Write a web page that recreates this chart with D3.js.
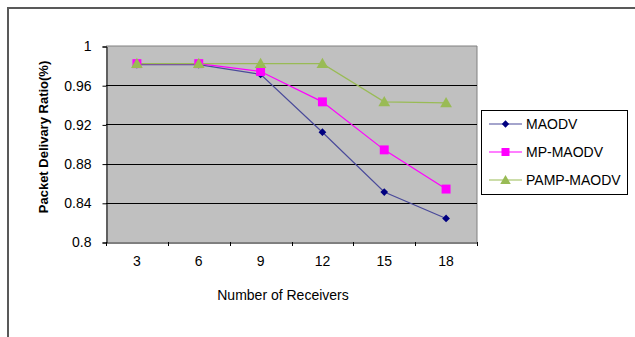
<!DOCTYPE html>
<html><head><meta charset="utf-8">
<script src="https://cdn.jsdelivr.net/npm/d3@7/dist/d3.min.js"></script>
<style>body{margin:0;background:#fff}svg{display:block}</style>
</head><body>
<svg id="c" width="635" height="337"></svg>
<script>
const categories = ["3","6","9","12","15","18"];
const maodv = [0.981, 0.981, 0.971, 0.912, 0.851, 0.824];
const mpMaodv = [0.982, 0.982, 0.974, 0.943, 0.894, 0.854];
const pampMaodv = [0.982, 0.982, 0.982, 0.982, 0.943, 0.942];
const yTicks = [0.8, 0.84, 0.88, 0.92, 0.96, 1];
const seriesNames = ["MAODV", "MP-MAODV", "PAMP-MAODV"];

const svg = d3.select("#c");
const font = "Arial, 'Liberation Sans', sans-serif";
svg.append("path").attr("d","M8,337 L8,8 L635,8").attr("fill","none").attr("stroke","#595959").attr("stroke-width",2);

const L=106,R=477,T=46,B=242;
const x = d3.scaleBand().domain(categories).range([L,R]);
const y = d3.scaleLinear().domain([0.8,1]).range([B,T]);

svg.append("rect").attr("x",L).attr("y",T).attr("width",R-L).attr("height",B-T).attr("fill","#c0c0c0");
svg.append("path").attr("d",`M${L},${T}H${R}V${B}`).attr("fill","none").attr("stroke","#808080").attr("stroke-width",1);
svg.append("g").selectAll("line").data(yTicks.slice(1,5)).join("line")
  .attr("x1",L).attr("x2",R).attr("y1",d=>Math.round(y(d))+0.5).attr("y2",d=>Math.round(y(d))+0.5)
  .attr("stroke","#000").attr("stroke-width",1);

const ya = d3.axisLeft(y).tickValues(yTicks).tickFormat(d=>String(+d.toFixed(2))).tickSize(4).tickPadding(11);
const gy = svg.append("g").attr("transform",`translate(${L+0.5},0.5)`).call(ya);
gy.selectAll("text").attr("font-family",font).attr("font-size",14).attr("fill","#000");
gy.select(".domain").attr("stroke","#000");

const xa = d3.axisBottom(x).tickSize(0).tickPadding(14);
const gx = svg.append("g").attr("transform",`translate(0,${B+0.5})`).call(xa);
gx.selectAll("text").attr("font-family",font).attr("font-size",14).attr("fill","#000");
gx.select(".domain").attr("stroke","#000");
const bounds = categories.map(c=>x(c)).concat([R]);
svg.append("g").selectAll("line").data(bounds).join("line")
  .attr("x1",d=>Math.round(d)+0.5).attr("x2",d=>Math.round(d)+0.5).attr("y1",B).attr("y2",B+4)
  .attr("stroke","#000");

svg.append("text").attr("x",283).attr("y",300).attr("text-anchor","middle")
  .attr("font-family",font).attr("font-size",14).text("Number of Receivers");
svg.append("text").attr("transform",`translate(48,137) rotate(-90)`).attr("text-anchor","middle")
  .attr("font-family",font).attr("font-size",13).attr("font-weight","bold").text("Packet Delivary Ratio(%)");

const cx = c=>x(c)+x.bandwidth()/2;
const colors = ["#000080","#ff00ff","#99bb55"];
const sets = [maodv, mpMaodv, pampMaodv];
const line = d3.line().x((d,i)=>cx(categories[i])).y(d=>y(d));
const sym = [d3.symbolSquare, d3.symbolSquare, d3.symbolTriangle];
const rot = [45, 0, 0];
const sizes = [30, 80, 60];
const lineColors = ["#4a4a9a","#ff00ff","#99bb55"];
sets.forEach((s,k)=>{
  svg.append("path").datum(s).attr("d",line).attr("fill","none").attr("stroke",lineColors[k]).attr("stroke-width",1.2);
});
sets.forEach((s,k)=>{
  svg.append("g").selectAll("path").data(s).join("path")
    .attr("transform",(d,i)=>`translate(${cx(categories[i])},${y(d)+(k==2?1:0)}) rotate(${rot[k]})`)
    .attr("d",d3.symbol(sym[k],sizes[k])).attr("fill",colors[k]);
});

svg.append("rect").attr("x",481.5).attr("y",110.5).attr("width",146).attr("height",84).attr("fill","#fff").attr("stroke","#000");
const ly = [124, 152, 180];
seriesNames.forEach((n,k)=>{
  svg.append("line").attr("x1",489).attr("x2",522).attr("y1",ly[k]).attr("y2",ly[k]).attr("stroke",lineColors[k]).attr("stroke-width",1.2);
  svg.append("path").attr("transform",`translate(505.5,${ly[k]+(k==2?1:0)}) rotate(${rot[k]})`).attr("d",d3.symbol(sym[k],sizes[k]*(k==0?0.9:0.8))).attr("fill",colors[k]);
  svg.append("text").attr("x",526).attr("y",ly[k]+5).attr("font-family",font).attr("font-size",14).text(n);
});
</script>
</body></html>
